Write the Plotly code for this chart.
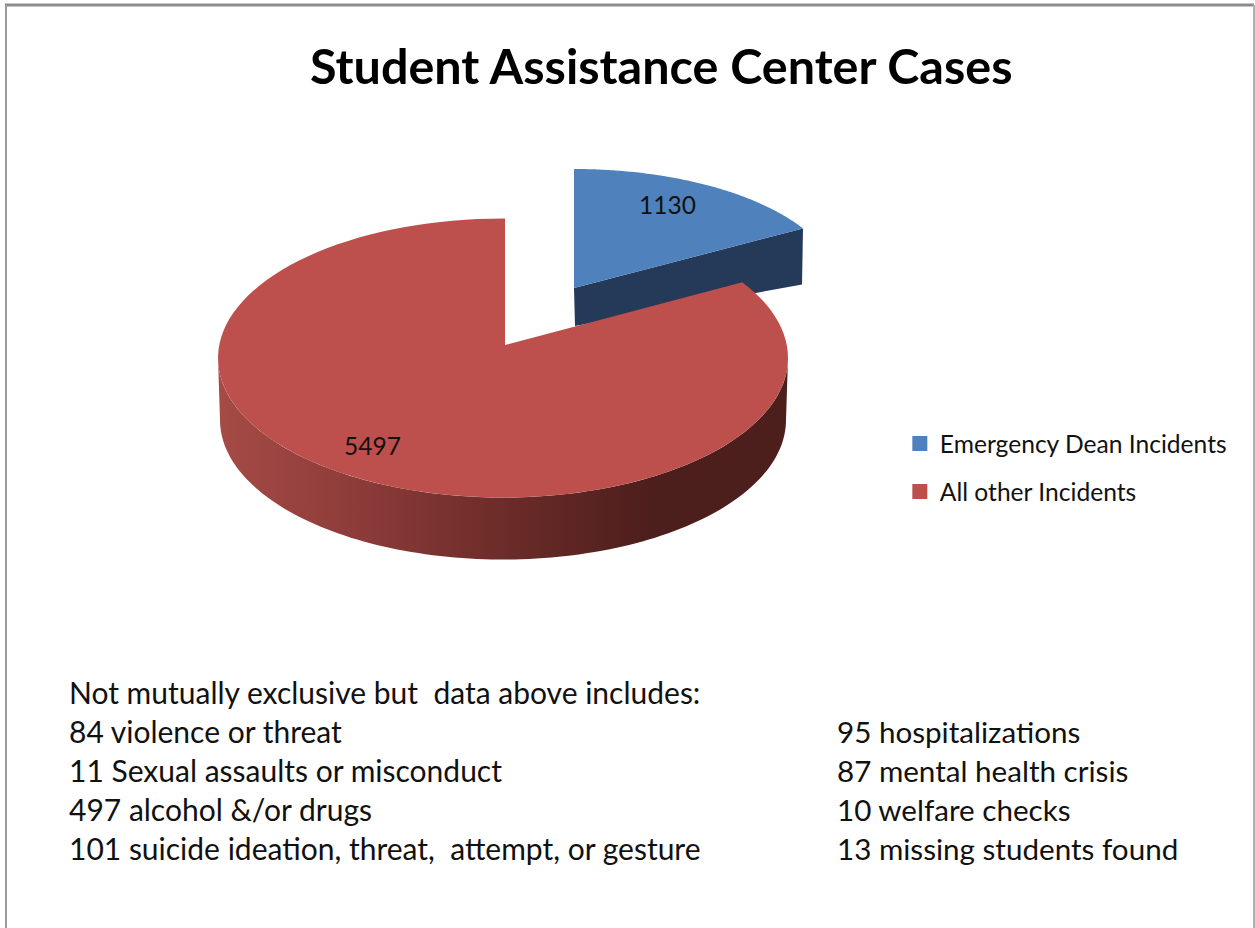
import numpy as np
import plotly.graph_objects as go

# Data
categories = ['Emergency Dean Incidents', 'All other Incidents']
values = [1130, 5497]
slice_colors = ['#4f81bd', '#bd4f4c']

title_text = 'Student Assistance Center Cases'
left_lines = [
    'Not mutually exclusive but  data above includes:',
    '84 violence or threat',
    '11 Sexual assaults or misconduct',
    '497 alcohol &/or drugs',
    '101 suicide ideation, threat,  attempt, or gesture',
]
right_lines = [
    '95 hospitalizations',
    '87 mental health crisis',
    '10 welfare checks',
    '13 missing students found',
]

W, H = 1255, 928
FONT = 'Lato'

# the 3d look: a flattened pie, blue slice pulled out to the upper right
blue_sweep = values[0] / sum(values) * 2 * np.pi


def arc(cx, cy, a, b, start, stop, n=120):
    t = np.linspace(start, stop, n)
    return cx + a * np.sin(t), cy - b * np.cos(t)


fig = go.Figure()

# blue slice, side wall then top
bx, by = arc(574, 288, 264.5, 119, 0, blue_sweep * 0.977)
edge_x, edge_y = bx[-1], by[-1]
fig.add_trace(go.Scatter(x=[574, edge_x, edge_x - 1, 575], y=[288, edge_y, edge_y + 56, 326],
                         fill='toself', fillcolor='#243a58', mode='none',
                         showlegend=False, hoverinfo='skip'))
fig.add_trace(go.Scatter(x=[574, *bx, 574], y=[288, *by, 288],
                         fill='toself', fillcolor=slice_colors[0], mode='none',
                         showlegend=False, hoverinfo='skip'))

# red slice, side wall with a gradient then top
cx, cy, a, b, depth = 503, 358, 285, 139.5, 62
tx, ty = arc(cx, cy, a, b, np.pi / 2, 3 * np.pi / 2)
lx, ly = arc(cx, cy + depth, a - 2, b, 3 * np.pi / 2, np.pi / 2)
fig.add_trace(go.Scatter(x=[*tx, *lx], y=[*ty, *ly], fill='toself', mode='none',
                         fillgradient=dict(type='horizontal', colorscale=[
                             [0, '#a64b46'], [0.25, '#8c3b39'], [0.5, '#6c2c29'],
                             [0.76, '#4c1e1c'], [1, '#4c1e1c']]),
                         showlegend=False, hoverinfo='skip'))
# the visible end of the red arc sits a bit short of the true angle because of the perspective
rx, ry = arc(cx, cy, a, b, blue_sweep * 0.93, 2 * np.pi)
fig.add_trace(go.Scatter(x=[505, *rx, 505, 505], y=[345, *ry, ry[-1], 345],
                         fill='toself', fillcolor=slice_colors[1], mode='none',
                         showlegend=False, hoverinfo='skip'))

# legend entries
for i, name in enumerate(categories):
    fig.add_trace(go.Scatter(x=[None], y=[None], name=name, mode='markers', legendgroup=name,
                             marker=dict(symbol='square', size=15, color=slice_colors[i])))

# data labels
fig.add_annotation(x=667, y=204, text=str(values[0]), showarrow=False, font=dict(size=24.5))
fig.add_annotation(x=372, y=445, text=str(values[1]), showarrow=False, font=dict(size=24.5))

# title
fig.add_annotation(x=661, y=65, text='<b>' + title_text + '</b>', showarrow=False,
                   font=dict(size=48.5, color='black'))

# notes below the pie
for i, line in enumerate(left_lines):
    fig.add_annotation(x=67, y=692 + i * 39, text=line, showarrow=False, xanchor='left',
                       font=dict(size=30))
for i, line in enumerate(right_lines):
    fig.add_annotation(x=835, y=731 + i * 39, text=line, showarrow=False, xanchor='left',
                       font=dict(size=29.6))

# chart frame, open at the bottom
fig.add_shape(type='line', x0=5, x1=1254, y0=5, y1=5, line=dict(color='#8c8c8c', width=3))
fig.add_shape(type='line', x0=6, x1=6, y0=5, y1=H, line=dict(color='#9a9a9a', width=2))
fig.add_shape(type='line', x0=1254, x1=1254, y0=5, y1=H, line=dict(color='#b0b0b0', width=2))

fig.update_xaxes(range=[0, W], visible=False)
fig.update_yaxes(range=[H, 0], visible=False)
fig.update_layout(width=W, height=H, margin=dict(l=0, r=0, t=0, b=0),
                  plot_bgcolor='white', paper_bgcolor='white',
                  font=dict(family=FONT, color='#111111'),
                  legend=dict(x=0.717, y=0.5464, xanchor='left', yanchor='top',
                              font=dict(size=24.6, color='#111111'), tracegroupgap=13,
                              itemwidth=30, bgcolor='rgba(0,0,0,0)'))

# page has a default body margin that would push the chart off by 8px
fig.write_html("out.html", config={'displayModeBar': False},
               post_script="document.body.style.margin='0';")
